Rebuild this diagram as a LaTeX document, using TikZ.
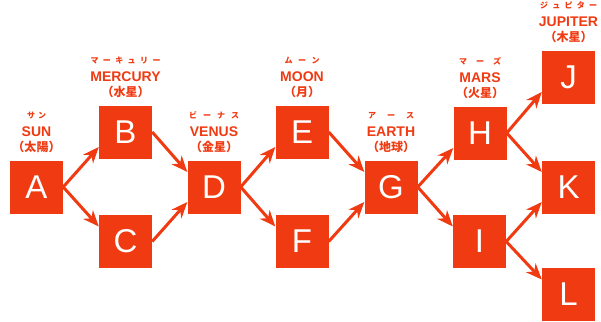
\documentclass[tikz,border=0pt]{standalone}
\usepackage{fontspec}
\setmainfont{Liberation Sans}
\newfontfamily\cjk{Noto Sans CJK JP}
\usetikzlibrary{arrows.meta,calc}
\definecolor{planred}{RGB}{240,58,18}
\tikzset{
  box/.style={fill=planred, draw=none, minimum width=53pt, minimum height=53pt, inner sep=0pt,
    text=white, font=\fontsize{33}{33}\selectfont},
  conn/.style={draw=planred, line width=3pt, -{Stealth[length=16pt,width=13pt,inset=5pt]}},
  rubytxt/.style={text=planred, inner sep=0pt, font=\cjk\bfseries\fontsize{8}{8}\selectfont},
  nametxt/.style={text=planred, inner sep=0pt, font=\bfseries\fontsize{14}{14}\selectfont},
  kanjitxt/.style={text=planred, inner sep=0pt, font=\cjk\bfseries\fontsize{12}{12}\selectfont},
}
\newcommand\spreadruby[2]{\makebox[#1][s]{#2}}
\begin{document}
\begin{tikzpicture}[x=1pt,y=-1pt]
\useasboundingbox (0,0) rectangle (601,321);
\node[box] (A) at (36.5,187) {A};
\node[box] (B) at (125.5,132) {B};
\node[box] (C) at (125.5,241.5) {C};
\node[box] (D) at (214,187) {D};
\node[box] (E) at (302,132) {E};
\node[box] (F) at (302,241.5) {F};
\node[box] (G) at (391,187) {G};
\node[box] (H) at (480,133) {H};
\node[box] (I) at (479.5,241.5) {I};
\node[box] (J) at (568.5,77) {J};
\node[box] (K) at (568.5,187) {K};
\node[box] (L) at (568.5,294.5) {L};
% labels
\newcommand\planetlabel[5]{%
  \node[rubytxt] (#1r) at ($(#1.north)+(0,-45)$) {\spreadruby{#2}{#3}};
  \node[nametxt] (#1n) at ($(#1.north)+(0,-29)$) {#4};
  \node[kanjitxt] (#1k) at ($(#1.north)+(0,-13.5)$) {#5};
}
\planetlabel{A}{19pt}{サ\hfill ン}{SUN}{（太陽）}
\planetlabel{B}{70pt}{マ\hfill ー\hfill キ\hfill ュ\hfill リ\hfill ー}{MERCURY}{（水星）}
\planetlabel{D}{50pt}{ビ\hfill ー\hfill ナ\hfill ス}{VENUS}{（金星）}
\planetlabel{E}{35pt}{ム\hfill ー\hfill ン}{MOON}{（月）}
\planetlabel{G}{46pt}{ア\hfill ー\hfill ス}{EARTH}{（地球）}
\planetlabel{H}{42pt}{マ\hfill ー\hfill ズ}{MARS}{（火星）}
\planetlabel{J}{57pt}{ジ\hfill ュ\hfill ピ\hfill タ\hfill ー}{JUPITER}{（木星）}
% connectors
\newcommand\up[2]{\draw[conn] (#1.east) -- ($(#2.west)+(0,15)$);}
\newcommand\down[2]{\draw[conn] (#1.east) -- ($(#2.west)+(0,-15)$);}
\up{A}{B}
\down{A}{C}
\down{B}{D}
\up{C}{D}
\up{D}{E}
\down{D}{F}
\down{E}{G}
\up{F}{G}
\up{G}{H}
\down{G}{I}
\up{H}{J}
\down{H}{K}
\up{I}{K}
\down{I}{L}
\end{tikzpicture}
\end{document}
